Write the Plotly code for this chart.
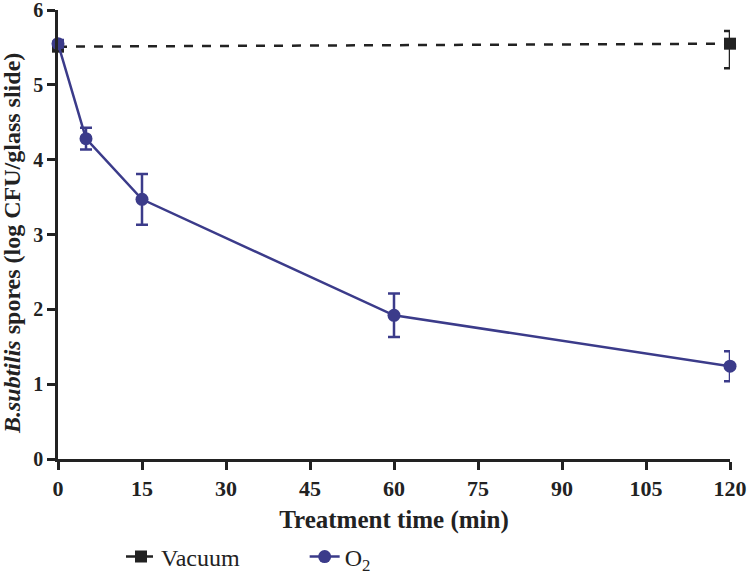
import plotly.graph_objects as go

time_o2 = [0, 5, 15, 60, 120]
o2_mean = [5.55, 4.28, 3.47, 1.92, 1.24]
o2_err = [0.05, 0.145, 0.34, 0.29, 0.2]

time_vac = [0, 120]
vac_mean = [5.51, 5.55]
vac_err_up = [0.05, 0.17]
vac_err_down = [0.05, 0.33]

x_ticks = [0, 15, 30, 45, 60, 75, 90, 105, 120]
y_ticks = [0, 1, 2, 3, 4, 5, 6]

font = "Liberation Serif, Times New Roman, serif"
navy = "#3b3b8a"
dark = "#222222"

fig = go.Figure()
fig.add_trace(go.Scatter(
    x=time_vac, y=vac_mean, name="Vacuum" + "&nbsp;" * 10, mode="lines+markers",
    line=dict(color=dark, width=2.5, dash="dash"),
    marker=dict(symbol="square", size=12, color=dark),
    error_y=dict(type="data", symmetric=False, array=vac_err_up, arrayminus=vac_err_down,
                 color=dark, thickness=2.5, width=6),
    cliponaxis=False,
))
fig.add_trace(go.Scatter(
    x=time_o2, y=o2_mean, name="O<sub>2</sub>", mode="lines+markers",
    line=dict(color=navy, width=2.5),
    marker=dict(symbol="circle", size=13, color=navy),
    error_y=dict(type="data", array=o2_err, color=navy, thickness=2.5, width=6),
    cliponaxis=False,
))

fig.add_annotation(
    text="<b><i>B.subtilis</i> spores (log CFU/glass slide)</b>",
    xref="paper", yref="paper", x=0, xshift=-46, y=(459 - 244) / 449,
    xanchor="center", yanchor="middle", textangle=-90, showarrow=False,
    font=dict(size=24, family=font, color="#222"),
)

fig.update_layout(
    width=751, height=577,
    margin=dict(l=58, r=21, t=10, b=118),
    plot_bgcolor="white", paper_bgcolor="white",
    font=dict(family=font, color="#222"),
    showlegend=True,
    legend=dict(orientation="h", x=121 / 751, xanchor="left", xref="container",
                y=(577 - 557) / 577, yref="container", yanchor="middle",
                font=dict(size=24, family=font, color="#222"),
                itemwidth=30, traceorder="normal"),
    xaxis=dict(range=[0, 120], tickvals=x_ticks, ticks="outside", ticklen=8, tickwidth=2.5,
               tickcolor="#222", showline=True, linecolor="#222", linewidth=2.5,
               showgrid=False, zeroline=False, automargin=False,
               ticklabeloverflow="allow",
               tickfont=dict(size=22, family=font, color="#222", weight="bold"),
               title=dict(text="<b>Treatment time (min)</b>", font=dict(size=25, family=font, color="#222"),
                          standoff=11)),
    yaxis=dict(range=[0, 6], tickvals=y_ticks, ticks="outside", ticklen=8, tickwidth=2.5,
               tickcolor="#222", showline=True, linecolor="#222", linewidth=2.5,
               showgrid=False, zeroline=False, automargin=False, ticklabeloverflow="allow",
               tickfont=dict(size=20, family=font, color="#222", weight="bold")),
)

fig.write_html("out.html", config={"displayModeBar": False},
               post_script="document.body.style.margin='0';")
